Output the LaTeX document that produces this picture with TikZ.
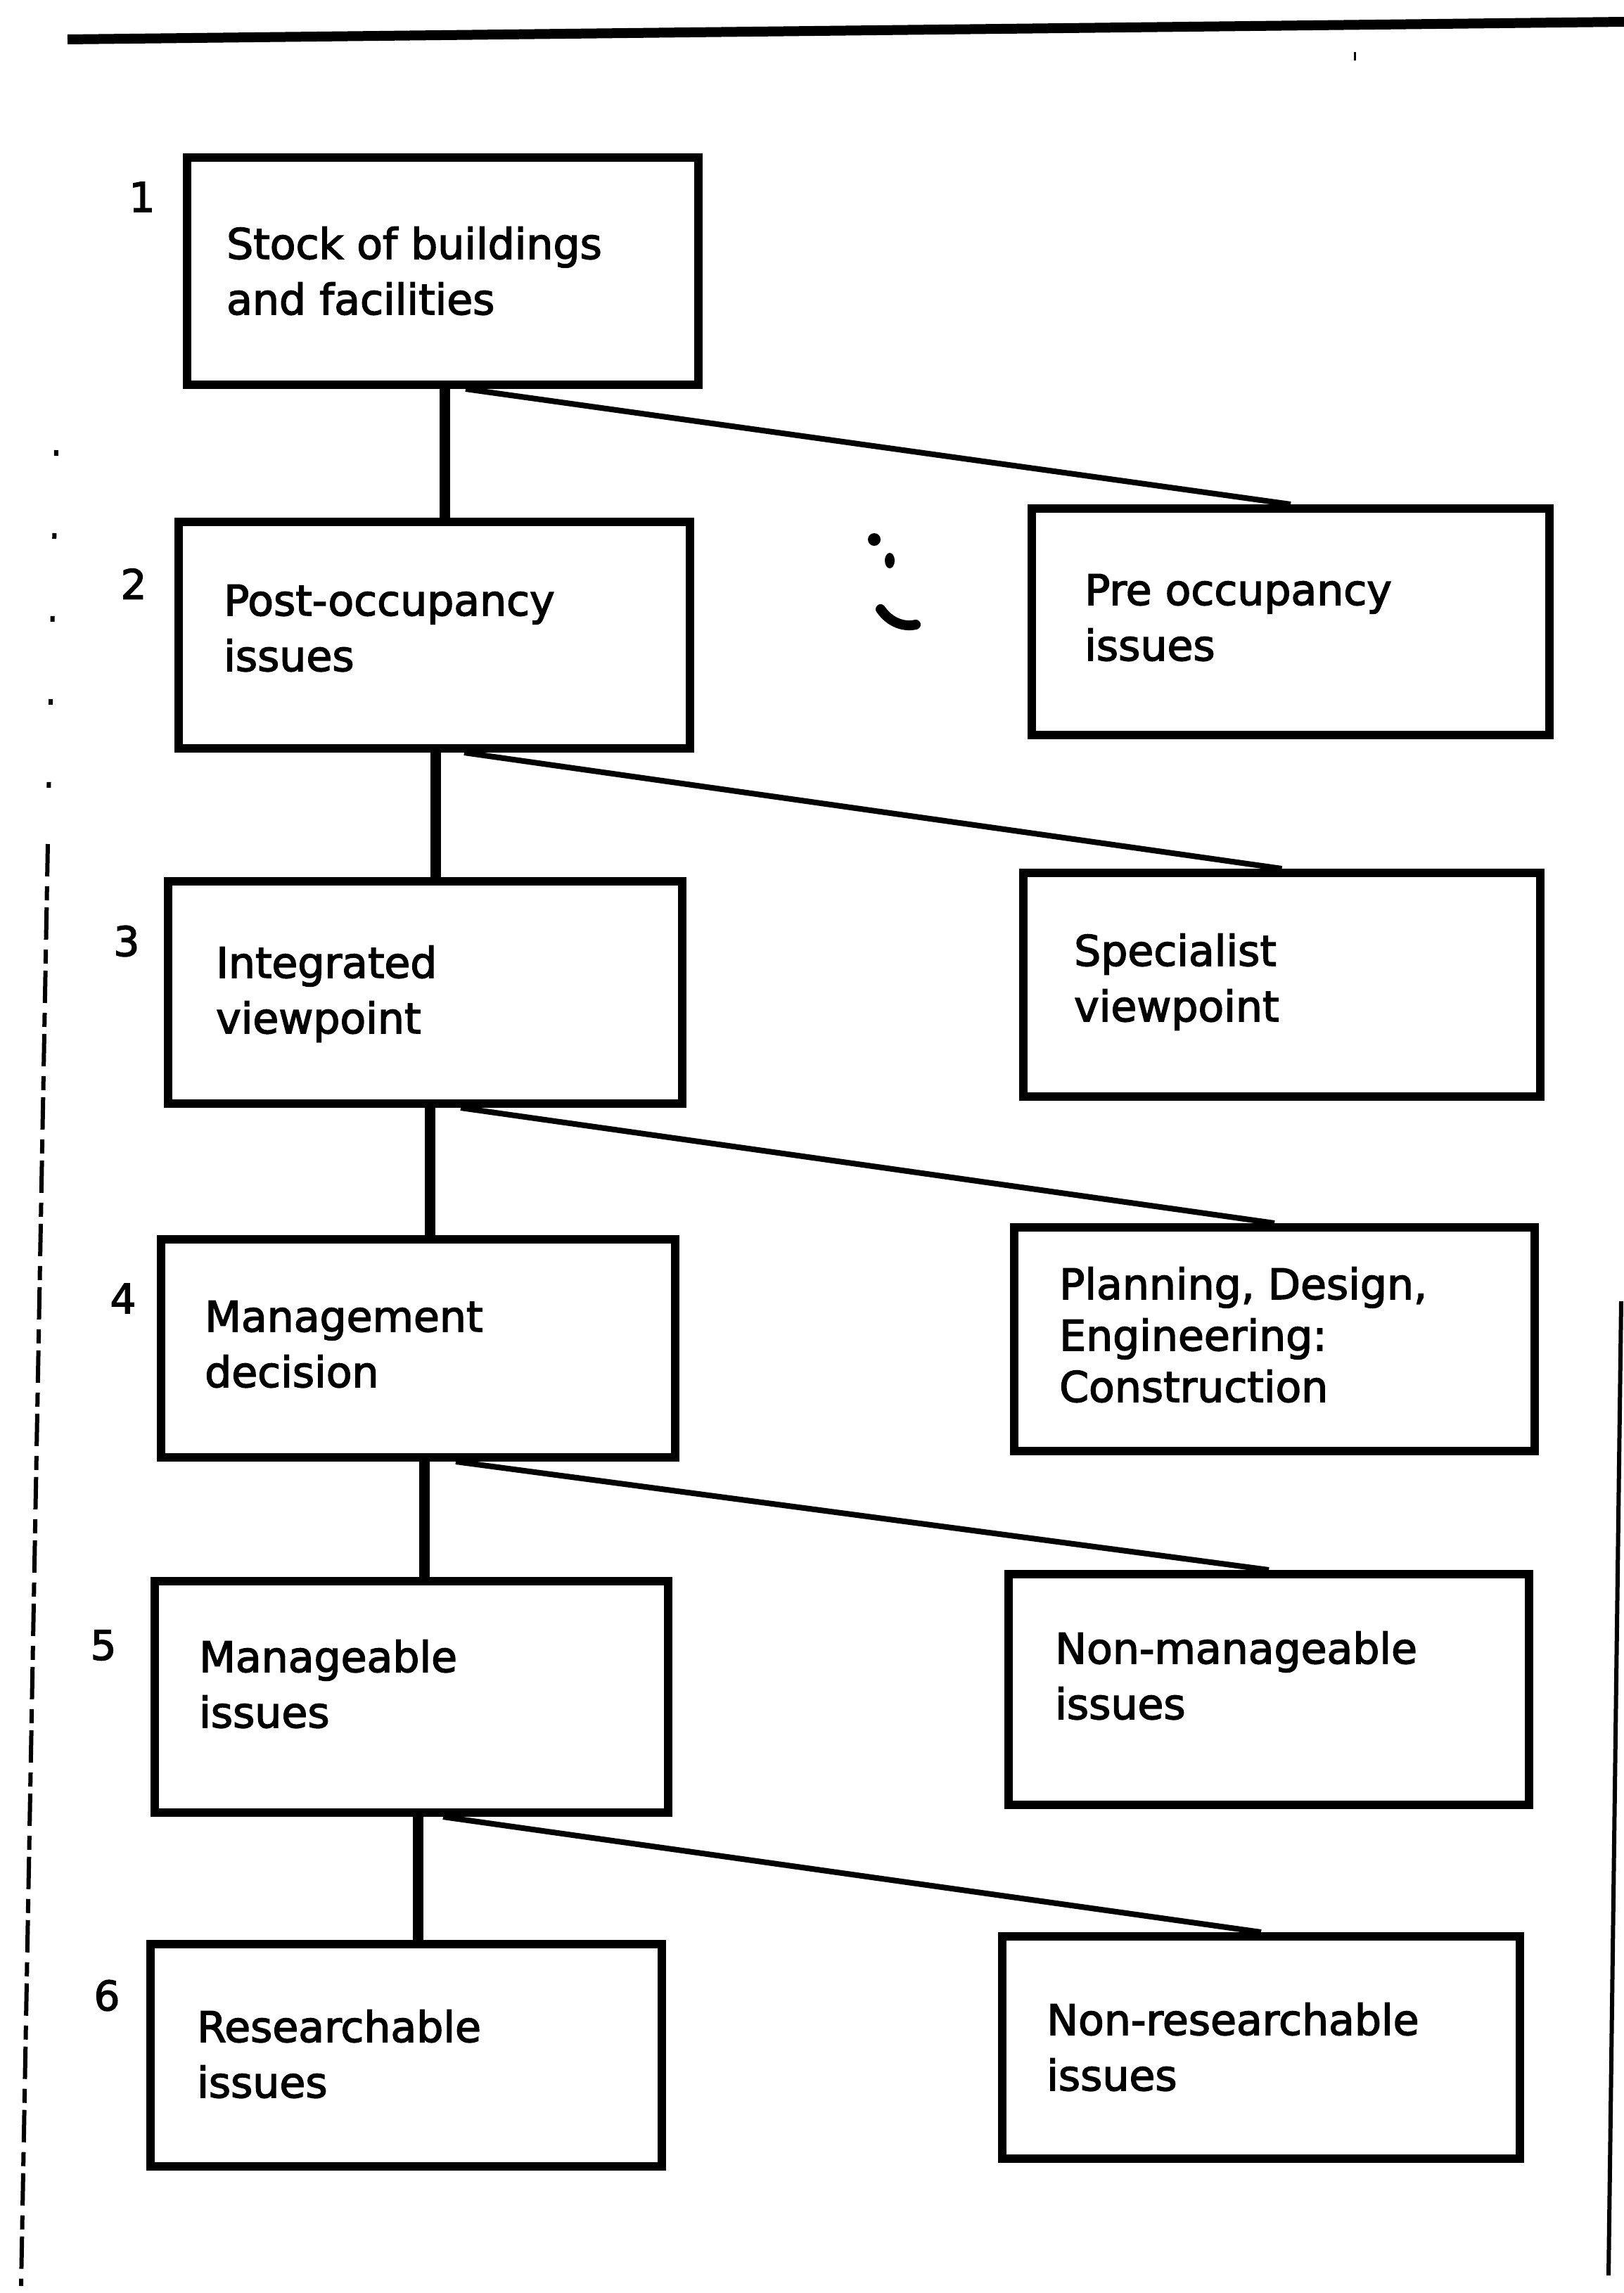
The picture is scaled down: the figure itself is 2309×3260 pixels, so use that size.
\documentclass[tikz,border=0pt]{standalone}
\usepackage{fontspec}
\setmainfont{DejaVu Sans}
\newfontfamily\boxfont{DejaVu Sans}[FakeBold=2.5]
\begin{document}
\begin{tikzpicture}[x=1pt,y=-1pt,
  box/.style={draw, rectangle, line width=12pt, inner sep=0pt},
  txt/.style={font=\boxfont\fontsize{60}{79}\selectfont, align=left, inner sep=0pt, anchor=base west},
  num/.style={font=\boxfont\fontsize{58}{60}\selectfont, inner sep=0pt},
  trunk/.style={line width=15pt},
  branch/.style={line width=8pt},
  edge/.style={line width=6pt},
]
\useasboundingbox (0,0) rectangle (2309,3260);
\fill[white] (0,0) rectangle (2309,3260);

% page rule and margins
\draw[line width=14pt] (96,56) -- (2309,31);
\draw[edge, dash pattern=on 8pt off 110pt] (80,640) -- (68,1180);
\draw[edge, dash pattern=on 46pt off 14pt on 20pt off 10pt] (68,1200) -- (30,3250);
\draw[edge] (2305,1850) -- (2287,3235);
\draw[line width=3pt] (1926,74) -- (1926,86);
\fill (1243,767) circle (9pt);
\fill (1265,797) ellipse (7pt and 11pt);
\draw[line width=14pt, line cap=round] (1252,866) .. controls (1265,885) and (1285,892) .. (1302,888);

% left column
\node[box, minimum width=727pt, minimum height=323pt] (b1) at (629.5,385.5) {};
\node[box, minimum width=727pt, minimum height=322pt] (b2) at (617,903) {};
\node[box, minimum width=731pt, minimum height=316pt] (b3) at (604.5,1411) {};
\node[box, minimum width=731pt, minimum height=310pt] (b4) at (594,1917) {};
\node[box, minimum width=730pt, minimum height=329pt] (b5) at (585,2412.5) {};
\node[box, minimum width=727pt, minimum height=316pt] (b6) at (577.5,2922) {};

% right column
\node[box, minimum width=736pt, minimum height=322pt] (r1) at (1835,884) {};
\node[box, minimum width=735pt, minimum height=318pt] (r2) at (1822.5,1400) {};
\node[box, minimum width=740pt, minimum height=318pt] (r3) at (1812,1904) {};
\node[box, minimum width=740pt, minimum height=328pt] (r4) at (1804,2402) {};
\node[box, minimum width=736pt, minimum height=316pt] (r5) at (1793,2911) {};

% box texts (anchored on the baseline of the last line)
\node[txt] (tb1) at (322,447) {Stock of buildings\\and facilities};
\node[txt] (tb2) at (318,954) {Post-occupancy\\issues};
\node[txt] (tb3) at (307,1469) {Integrated\\viewpoint};
\node[txt] (tb4) at (291,1972) {Management\\decision};
\node[txt] (tb5) at (283,2456) {Manageable\\issues};
\node[txt] (tb6) at (280,2982) {Researchable\\issues};
\node[txt] (tr1) at (1542,939) {Pre occupancy\\issues};
\node[txt] (tr2) at (1527,1452) {Specialist\\viewpoint};
\node[txt, font=\boxfont\fontsize{60}{73}\selectfont] (tr3) at (1506,1993) {Planning, Design,\\Engineering:\\Construction};
\node[txt] (tr4) at (1500,2444) {Non-manageable\\issues};
\node[txt] (tr5) at (1488,2972) {Non-researchable\\issues};

% level numbers
\node[num] (n1) at (202,280) {1};
\node[num] (n2) at (190,830) {2};
\node[num] (n3) at (180,1338) {3};
\node[num] (n4) at (175,1846) {4};
\node[num] (n5) at (147,2339) {5};
\node[num] (n6) at (152,2837) {6};

% trunk lines down the left column
\coordinate (k1) at (632,0);
\coordinate (k2) at (619,0);
\coordinate (k3) at (611,0);
\coordinate (k4) at (603,0);
\coordinate (k5) at (594,0);
\draw[trunk] (b1.south -| k1) -- (b2.north -| k1);
\draw[trunk] (b2.south -| k2) -- (b3.north -| k2);
\draw[trunk] (b3.south -| k3) -- (b4.north -| k3);
\draw[trunk] (b4.south -| k4) -- (b5.north -| k4);
\draw[trunk] (b5.south -| k5) -- (b6.north -| k5);

% branches to the right column
\coordinate (s1) at (662,0);
\coordinate (s2) at (660,0);
\coordinate (s3) at (655,0);
\coordinate (s4) at (648,0);
\coordinate (s5) at (630,0);
\draw[branch] (b1.south -| s1) -- (r1.north -| r1);
\draw[branch] (b2.south -| s2) -- (r2.north -| r2);
\draw[branch] (b3.south -| s3) -- (r3.north -| r3);
\draw[branch] (b4.south -| s4) -- (r4.north -| r4);
\draw[branch] (b5.south -| s5) -- (r5.north -| r5);
\end{tikzpicture}
\end{document}
